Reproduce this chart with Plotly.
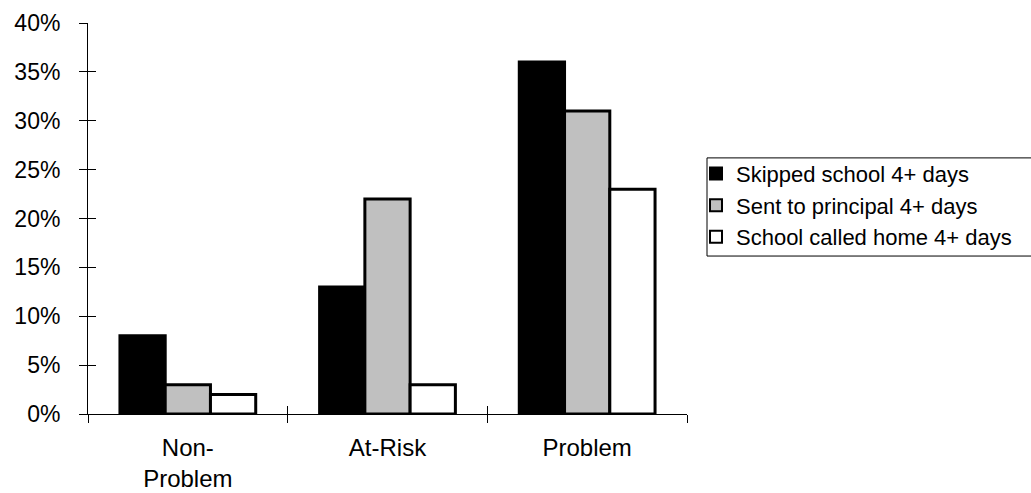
import plotly.graph_objects as go

categories = ["Non-<br>Problem", "At-Risk", "Problem"]
skipped = [8, 13, 36]
principal = [3, 22, 31]
called_home = [2, 3, 23]
series_names = ["Skipped school 4+ days", "Sent to principal 4+ days", "School called home 4+ days"]
series_colors = ["#000000", "#C0C0C0", "#FFFFFF"]
y_ticks = [0, 5, 10, 15, 20, 25, 30, 35, 40]
y_tick_text = ["0%", "5%", "10%", "15%", "20%", "25%", "30%", "35%", "40%"]
boundary_ticks = [0.5, 1.5, 2.5]

FONT = "Liberation Sans, Arial, sans-serif"

fig = go.Figure()
for name, vals, col in zip(series_names, [skipped, principal, called_home], series_colors):
    fig.add_trace(go.Bar(
        x=categories, y=vals, name=name,
        marker=dict(color=col, line=dict(color="#000000", width=3)),
    ))

# helper overlay axes to draw the inner half of the crossing tick marks
fig.add_trace(go.Scatter(x=[], y=[], xaxis="x2", yaxis="y2", showlegend=False, hoverinfo="skip"))

fig.update_layout(
    width=1031, height=493,
    margin=dict(l=88, r=344, t=23, b=79, autoexpand=False),
    paper_bgcolor="white", plot_bgcolor="white",
    font=dict(family=FONT, size=23, color="#000000"),
    barmode="group", bargap=0.32, bargroupgap=0,
    showlegend=True,
    legend=dict(
        x=1.015, xanchor="left", y=0.668, yanchor="top",
        borderwidth=0, bgcolor="rgba(0,0,0,0)",
        font=dict(family=FONT, size=22, color="#000000"),
        tracegroupgap=0, itemsizing="constant",
    ),
    shapes=[dict(
        type="rect", xref="paper", yref="paper",
        x0=1.0334, x1=1.65, y0=0.404, y1=0.655,
        line=dict(color="#000000", width=1), fillcolor="rgba(0,0,0,0)", layer="below",
    )],
    xaxis=dict(
        type="category", showgrid=False, zeroline=False,
        showline=True, linecolor="#000000", linewidth=1,
        ticks="outside", ticklen=8, tickcolor="#000000", tickwidth=1,
        tickson="boundaries", ticklabelstandoff=12,
        tickfont=dict(family=FONT, size=24, color="#000000"),
    ),
    yaxis=dict(
        range=[0, 40], tickvals=y_ticks, ticktext=y_tick_text,
        showgrid=False, zeroline=False,
        showline=True, linecolor="#000000", linewidth=1,
        ticks="outside", ticklen=8, tickcolor="#000000", tickwidth=1,
        ticklabelstandoff=14,
        tickfont=dict(family=FONT, size=23, color="#000000"),
    ),
    xaxis2=dict(
        overlaying="x", anchor="y", range=[-0.5, 2.5], tickvals=boundary_ticks,
        showticklabels=False, showgrid=False, zeroline=False, showline=False,
        ticks="inside", ticklen=8, tickcolor="#000000", tickwidth=1, side="bottom",
    ),
    yaxis2=dict(
        overlaying="y", anchor="x", range=[0, 40], tickvals=y_ticks,
        showticklabels=False, showgrid=False, zeroline=False, showline=False,
        ticks="inside", ticklen=8, tickcolor="#000000", tickwidth=1, side="left",
    ),
)

fig.write_html("out.html")
